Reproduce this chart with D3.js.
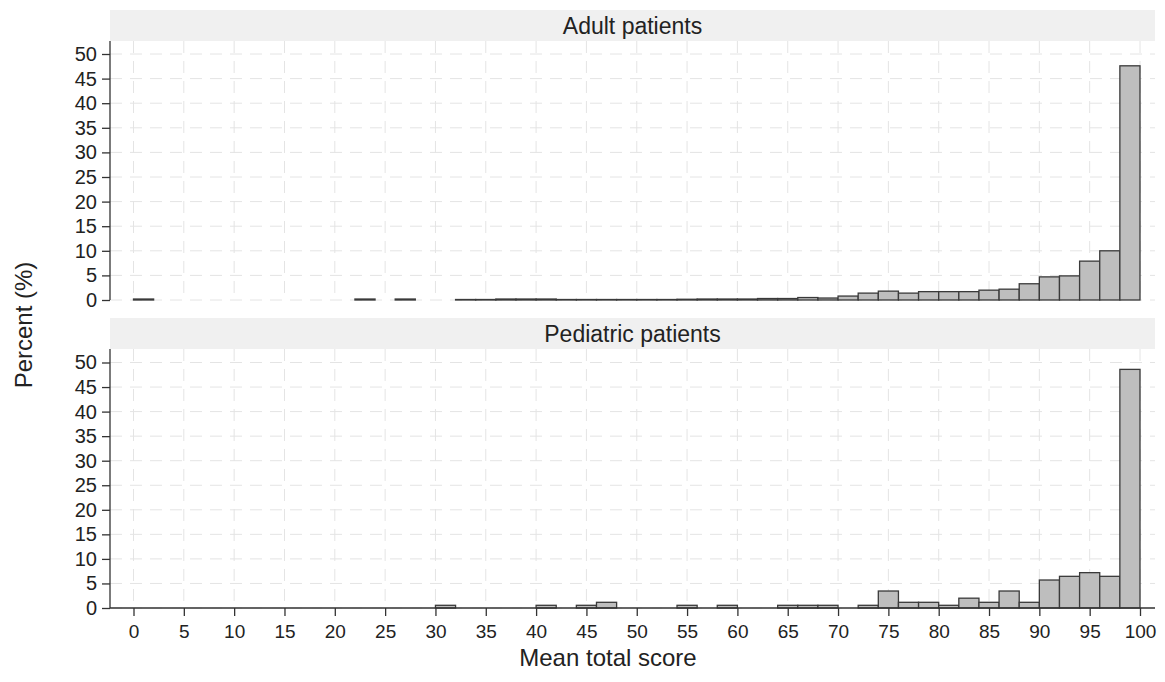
<!DOCTYPE html>
<html>
<head>
<meta charset="utf-8">
<script src="https://cdn.jsdelivr.net/npm/d3@7"></script>
<style>
  body { margin: 0; background: #fff; }
  text { font-family: "Liberation Sans", Arial, sans-serif; fill: #222; }
  .grid line { stroke: #e4e4e4; stroke-width: 1; stroke-dasharray: 12,8; }
  .bar { fill: #bebebe; stroke: #3a3a3a; stroke-width: 1.3; }
  .axis path, .axis line { stroke: #333; stroke-width: 1.3; }
</style>
</head>
<body>
<svg id="chart" width="1165" height="682"></svg>
<script>
// bin starts (width 2) for mean total score
const binStarts = [0, 2, 4, 6, 8, 10, 12, 14, 16, 18, 20, 22, 24, 26, 28, 30, 32, 34, 36, 38,
  40, 42, 44, 46, 48, 50, 52, 54, 56, 58, 60, 62, 64, 66, 68, 70, 72, 74, 76, 78,
  80, 82, 84, 86, 88, 90, 92, 94, 96, 98];

const adultPct = [0.2, 0, 0, 0, 0, 0, 0, 0, 0, 0, 0, 0.2, 0, 0.2, 0, 0, 0.1, 0.1, 0.2, 0.2,
  0.2, 0.1, 0.1, 0.1, 0.1, 0.1, 0.1, 0.15, 0.2, 0.2, 0.2, 0.3, 0.3, 0.5, 0.4, 0.8, 1.4, 1.8, 1.4, 1.7,
  1.7, 1.7, 2.0, 2.2, 3.3, 4.7, 4.9, 7.9, 10.0, 47.6];

const pediatricPct = [0, 0, 0, 0, 0, 0, 0, 0, 0, 0, 0, 0, 0, 0, 0, 0.55, 0, 0, 0, 0,
  0.55, 0, 0.55, 1.16, 0, 0, 0, 0.55, 0, 0.55, 0, 0, 0.55, 0.55, 0.55, 0, 0.55, 3.46, 1.16, 1.16,
  0.55, 2.0, 1.16, 3.46, 1.16, 5.7, 6.45, 7.2, 6.45, 48.6];

const panels = ["Adult patients", "Pediatric patients"];
const xTicks = [0, 5, 10, 15, 20, 25, 30, 35, 40, 45, 50, 55, 60, 65, 70, 75, 80, 85, 90, 95, 100];
const yTicks = [0, 5, 10, 15, 20, 25, 30, 35, 40, 45, 50];
const binWidth = 2;

const svg = d3.select("#chart");
const left = 110, right = 1155;
const x = d3.scaleLinear().domain([0, 100]).range([133.5, 1140]);

// panel layout: strip top, plot top, baseline
const layout = [
  { strip: 10, top: 41, base: 300, top50: 54, values: adultPct },
  { strip: 318, top: 349, base: 608, top50: 362.5, values: pediatricPct }
];

layout.forEach((p, i) => {
  const y = d3.scaleLinear().domain([0, 50]).range([p.base, p.top50]);
  const g = svg.append("g");

  // strip header
  g.append("rect")
    .attr("x", left).attr("y", p.strip)
    .attr("width", right - left).attr("height", p.top - p.strip)
    .attr("fill", "#f0f0f0");
  g.append("text")
    .attr("x", (left + right) / 2).attr("y", p.strip + 24)
    .attr("text-anchor", "middle")
    .attr("font-size", 23)
    .text(panels[i]);

  // dashed grid
  const grid = g.append("g").attr("class", "grid");
  grid.selectAll(".h").data(yTicks).join("line")
    .attr("x1", left).attr("x2", right)
    .attr("y1", d => y(d)).attr("y2", d => y(d));
  grid.selectAll(".v").data(xTicks).join("line")
    .attr("x1", d => x(d)).attr("x2", d => x(d))
    .attr("y1", p.top).attr("y2", p.base);

  // bars
  const data = binStarts.map((b, k) => ({ b: b, v: p.values[k] })).filter(d => d.v > 0);
  g.selectAll(".bar").data(data).join("rect")
    .attr("class", "bar")
    .attr("x", d => x(d.b))
    .attr("width", d => x(d.b + binWidth) - x(d.b))
    .attr("y", d => y(d.v))
    .attr("height", d => y(0) - y(d.v));

  // y axis
  const ya = g.append("g")
    .attr("class", "axis")
    .attr("transform", `translate(${left},0)`)
    .call(d3.axisLeft(y).tickValues(yTicks).tickSize(8).tickSizeOuter(0).tickPadding(5));
  ya.select(".domain").remove();
  ya.append("line").attr("x1", 0).attr("x2", 0).attr("y1", p.top).attr("y2", p.base)
    .attr("stroke", "#333").attr("stroke-width", 1.3);
  ya.selectAll("text").attr("font-size", 20).attr("fill", "#222")
    .attr("font-family", "Liberation Sans, Arial, sans-serif");

  // x axis only on the bottom panel
  if (i === layout.length - 1) {
    const xa = g.append("g")
      .attr("class", "axis")
      .attr("transform", `translate(0,${p.base})`)
      .call(d3.axisBottom(x).tickValues(xTicks).tickSize(8).tickSizeOuter(0).tickPadding(9));
    xa.select(".domain").remove();
    xa.append("line").attr("x1", left).attr("x2", right).attr("y1", 0).attr("y2", 0)
      .attr("stroke", "#333").attr("stroke-width", 1.3);
    xa.selectAll("text").attr("font-size", 19).attr("fill", "#222")
      .attr("font-family", "Liberation Sans, Arial, sans-serif");
  }
});

// axis titles
svg.append("text")
  .attr("x", 608).attr("y", 666)
  .attr("text-anchor", "middle")
  .attr("font-size", 24)
  .text("Mean total score");

svg.append("text")
  .attr("transform", "translate(32,325) rotate(-90)")
  .attr("text-anchor", "middle")
  .attr("font-size", 24)
  .text("Percent (%)");
</script>
</body>
</html>
